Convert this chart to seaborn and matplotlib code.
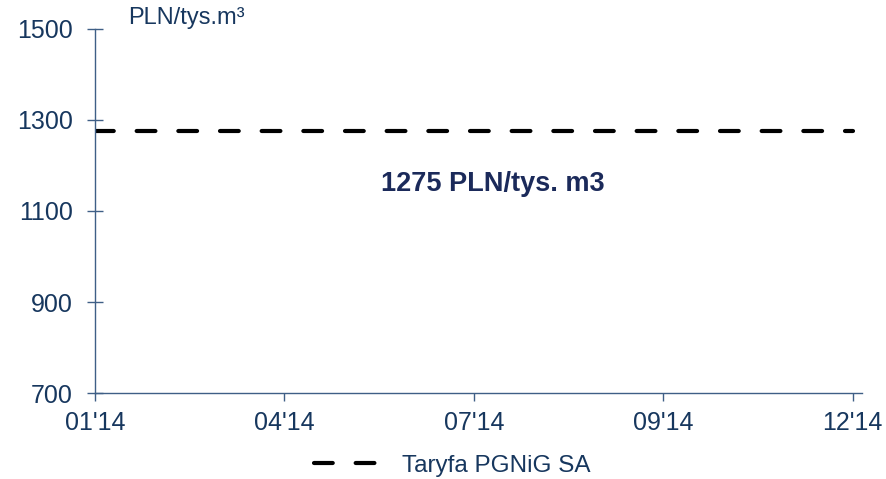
import pandas as pd
import matplotlib.pyplot as plt
import seaborn as sns

# Data
months = ["01'14", "04'14", "07'14", "09'14", "12'14"]
tariff = [1275, 1275, 1275, 1275, 1275]
series_name = "Taryfa PGNiG SA"
y_ticks = [700, 900, 1100, 1300, 1500]

df = pd.DataFrame({"pos": range(len(months)), "month": months, "value": tariff})

sns.set_style("white")
plt.rcParams['font.family'] = ['Liberation Sans', 'DejaVu Sans']

navy = "#17375E"
axis_col = "#3F5F86"

fig = plt.figure(figsize=(8.87, 4.79), dpi=100)
ax = fig.add_axes([0.107, 0.1795, 0.865, 0.76])

sns.lineplot(data=df, x="pos", y="value", ax=ax, color="black", linewidth=3,
             label=series_name)
line = ax.get_lines()[0]
line.set_dashes((4.5, 5.5))
line.set_dash_capstyle("round")

ax.set_xlim(0, 4.05)
ax.set_ylim(700, 1500)
ax.set_xticks(range(len(months)))
ax.set_xticklabels(months)
ax.set_yticks(y_ticks)
ax.set_xlabel("")
ax.set_ylabel("")

for side in ["top", "right"]:
    ax.spines[side].set_visible(False)
for side in ["left", "bottom"]:
    ax.spines[side].set_color(axis_col)
    ax.spines[side].set_linewidth(1)

ax.tick_params(axis="y", direction="inout", length=12, width=1, color=axis_col,
               labelsize=18, labelcolor=navy, pad=10)
ax.tick_params(axis="x", direction="out", length=6, width=1, color=axis_col,
               labelsize=18, labelcolor=navy, pad=7)
ax.tick_params(left=True, bottom=True)

ax.text(2.1, 1160, "1275 PLN/tys. m3", ha="center", va="center",
        fontsize=19.5, fontweight="bold", color="#1B2A5A")

fig.text(0.144, 0.962, "PLN/tys.m\u00b3", ha="left", va="center",
         fontsize=17, color=navy)

leg = ax.legend(loc="center", bbox_to_anchor=(0.466, -0.2), frameon=False,
                fontsize=17.5, handlelength=3.2, handletextpad=0.4)
for t in leg.get_texts():
    t.set_color(navy)
for h in leg.get_lines():
    h.set_dashes((4.5, 5.5))
    h.set_dash_capstyle("round")

fig.savefig("out.png", dpi=100)
